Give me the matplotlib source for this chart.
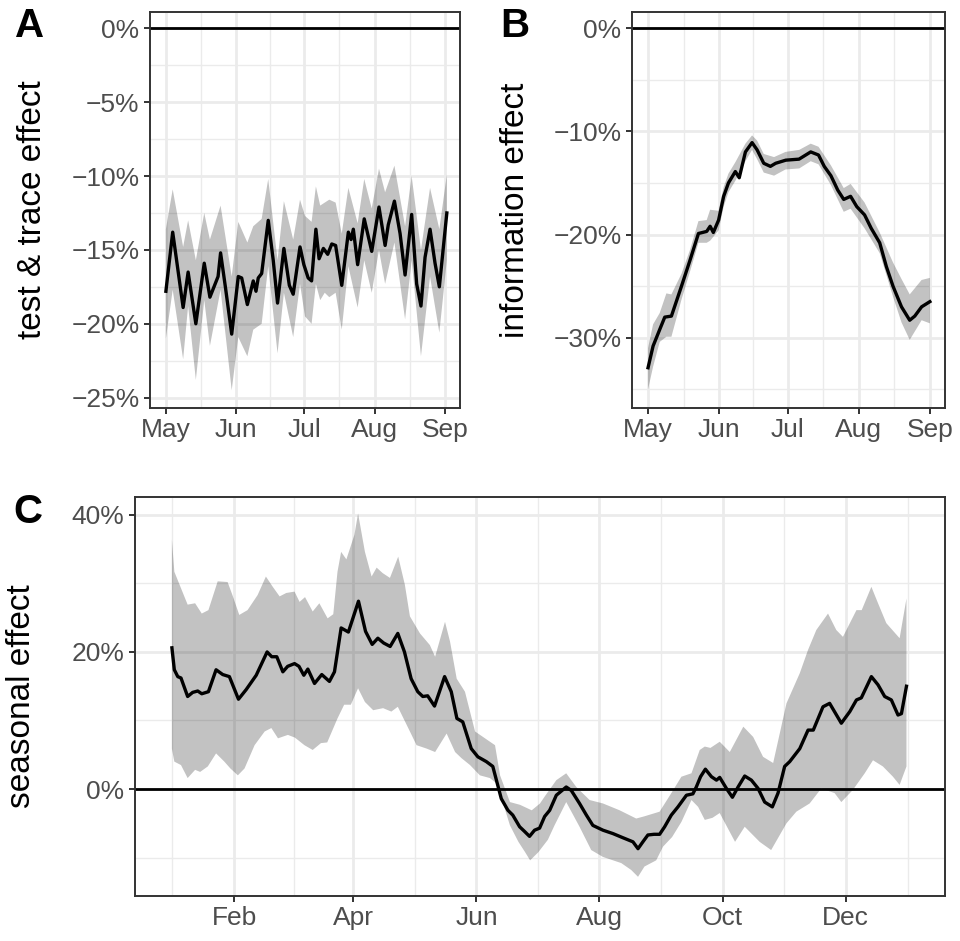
import numpy as np
import pandas as pd
import matplotlib
matplotlib.use('Agg')
import matplotlib.pyplot as plt
import matplotlib.dates as mdates
from matplotlib.ticker import FixedLocator, FuncFormatter

# ---------------- data ----------------
# Panel A: test & trace effect (%), days after 2020-05-01
a_day = [0, 3, 7.6, 9.8, 13.2, 16.9, 19.4, 23, 24.1, 26.3, 29, 31.9, 33.4, 35.9, 38.5, 39.7, 40.7,
         42.2, 45.1, 47.3, 49.2, 52, 54.4, 56.1, 59.1, 60.8, 62.7, 64.2, 66.1, 67.5, 69.4, 71.3, 73.1,
         74.8, 77.5, 80.4, 81.6, 82.6, 84.5, 87.4, 90.7, 93.9, 96.6, 98, 100.7, 103.2, 105.4, 108.3,
         110.5, 112.4, 114.2, 116.4, 118.6, 120.5, 123.8]
a_val = [-17.8, -13.8, -18.9, -16.5, -20.0, -15.9, -18.2, -16.8, -15.2, -17.6, -20.7, -16.8, -16.9,
         -18.7, -17.1, -17.8, -16.9, -16.6, -13.0, -15.7, -18.6, -14.9, -17.4, -18.0, -14.8, -16.0,
         -16.9, -17.1, -13.6, -15.6, -14.9, -15.3, -14.6, -14.7, -17.4, -13.8, -14.3, -13.6, -16.0,
         -12.9, -15.1, -12.1, -14.7, -13.3, -11.7, -13.9, -16.7, -12.6, -17.3, -18.8, -15.5, -13.6,
         -15.9, -17.5, -12.5]
a_band_day = [0, 3, 7.6, 9.8, 13.2, 16.9, 19.4, 24.1, 29, 31.9, 35.9, 38.5, 42.2, 45.1, 49.2, 52,
              56.1, 59.1, 61.3, 64.2, 66.1, 68, 70, 72, 74.8, 77.5, 80.4, 84.5, 87.4, 90.7, 93.9,
              96.6, 100.7, 105.4, 108.3, 112.4, 116.4, 120.5, 123.8]
a_upper = [-13.6, -10.9, -14.8, -13.0, -15.7, -12.5, -14.3, -12.0, -16.8, -13.1, -14.5, -13.4, -12.9,
           -10.2, -15.7, -11.7, -14.3, -11.6, -12.7, -13.1, -10.7, -12.0, -11.8, -11.6, -11.8, -13.9,
           -10.8, -13.2, -10.2, -12.2, -9.5, -11.1, -9.3, -13.4, -10.0, -15.0, -10.8, -13.6, -9.9]
a_lower = [-21.0, -17.7, -22.4, -18.8, -23.8, -18.4, -21.5, -17.7, -24.5, -20.9, -22.2, -20.4, -20.0,
           -16.1, -22.0, -17.9, -20.9, -17.3, -19.5, -20.0, -17.3, -18.4, -17.9, -18.2, -17.9, -20.4,
           -16.1, -18.9, -15.7, -17.9, -15.0, -17.3, -14.5, -19.7, -15.7, -22.2, -16.8, -20.6, -15.7]

# Panel B: information effect (%), days after 2020-05-01
b_day = [0, 2.2, 5.1, 7.3, 10.2, 14.6, 18.3, 22, 25.6, 27.1, 28.5, 30.8, 33, 35.1, 38.1, 39.8, 42.5,
         45.4, 47.6, 50.5, 53.4, 55.7, 60.1, 65.9, 71, 74.4, 76.9, 79.8, 82.8, 85.4, 88.4, 91.1, 94.5,
         97.4, 101.1, 104, 106.9, 110.6, 114.2, 116.4, 119.4, 123]
b_val = [-32.9, -30.8, -29.2, -28.0, -27.9, -25.0, -22.5, -19.9, -19.7, -19.2, -19.8, -18.6, -16.3,
         -15.0, -13.9, -14.5, -12.0, -11.1, -11.8, -13.1, -13.4, -13.1, -12.8, -12.7, -12.0, -12.3,
         -13.4, -14.3, -15.7, -16.6, -16.3, -17.3, -18.1, -19.4, -20.8, -23.1, -25.0, -27.0, -28.3,
         -27.9, -27.0, -26.5]
b_band_day = [0, 2.2, 5.1, 8, 10.2, 14.6, 18.3, 22, 25.6, 27.1, 30.8, 33, 35.1, 38.1, 42.5, 45.4,
              47.6, 50.5, 55, 60, 66, 71, 74.4, 79.8, 85.4, 88.4, 94.5, 101.1, 106.9, 110.6, 114.2,
              119.4, 123]
b_upper = [-31.0, -28.7, -27.6, -25.7, -25.8, -23.8, -21.5, -18.7, -18.6, -17.6, -17.7, -15.4, -14.1,
           -13.0, -11.2, -10.4, -10.9, -12.2, -12.5, -12.0, -11.8, -11.2, -11.5, -13.3, -15.5, -15.1,
           -16.9, -19.8, -22.7, -24.3, -25.8, -24.4, -24.2]
b_lower = [-35.0, -32.8, -30.4, -29.9, -29.9, -26.3, -23.6, -20.8, -20.8, -20.6, -19.6, -17.3, -15.9,
           -14.8, -12.9, -11.8, -12.7, -14.0, -14.3, -13.7, -13.6, -12.9, -13.2, -15.2, -17.8, -17.5,
           -19.4, -21.8, -26.0, -28.5, -30.2, -28.3, -28.6]

# Panel C: seasonal effect (%), day of year
c_day = [0, 1.2, 2.9, 4.5, 7.8, 10.3, 12.8, 14.8, 18.1, 21.9, 25.2, 28.5, 33, 36.8, 41.8, 47.2, 49.5,
         52, 55, 57.4, 60.8, 63, 65.4, 67.4, 70.7, 74.3, 78.1, 80.6, 83.9, 87.5, 92.5, 96, 99.3,
         102.1, 105, 108.2, 112, 115.3, 118.6, 121.9, 124.4, 126.8, 130.2, 135.2, 138.5, 141.3, 144.2,
         148.4, 151.7, 155.9, 159.1, 163.3, 166.6, 169, 172.4, 174.9, 177.3, 179.8, 182.3, 184.8,
         187.3, 190.6, 195.5, 198, 202.1, 205.5, 208.7, 213.7, 218.7, 223.6, 228.6, 231.1, 233.5, 236,
         239, 241.8, 244.3, 247.6, 250.9, 255.1, 258.3, 260, 262.1, 264.5, 267.5, 270, 271.6, 274.9,
         277.9, 280.7, 284, 287.3, 290.6, 293.9, 297.7, 300.5, 303.8, 306.3, 311.3, 315.4, 318,
         322.8, 326.1, 331.9, 336.1, 339.4, 341.8, 346.8, 350.1, 353.4, 356.7, 360, 361.7, 364.2]
c_val = [20.6, 17.4, 16.4, 16.2, 13.5, 14.1, 14.3, 13.9, 14.2, 17.4, 16.7, 16.4, 13.1, 14.5, 16.6,
         20.0, 19.3, 19.3, 17.1, 17.9, 18.3, 17.9, 16.6, 17.5, 15.4, 16.7, 15.7, 17.1, 23.5, 22.9,
         27.4, 23.0, 21.1, 22.0, 21.3, 20.8, 22.7, 20.0, 16.1, 14.2, 13.5, 13.6, 12.1, 16.4, 14.2,
         10.3, 9.8, 5.9, 4.7, 4.0, 3.3, -1.4, -3.1, -3.8, -5.5, -6.2, -6.9, -6.0, -5.7, -4.0, -3.1,
         -0.9, 0.3, -0.2, -2.1, -3.8, -5.3, -6.0, -6.5, -7.1, -7.7, -8.7, -7.7, -6.7, -6.6, -6.6,
         -5.5, -3.8, -2.6, -0.9, -0.7, 0.3, 1.8, 2.9, 1.8, 1.3, 1.7, 0.1, -1.2, 0.3, 1.9, 1.3, 0.1,
         -1.9, -2.6, -0.6, 3.3, 4.0, 5.9, 8.6, 8.6, 12.0, 12.5, 9.6, 11.3, 13.0, 13.3, 16.4, 15.2,
         13.5, 13.0, 10.8, 11.0, 15.0]
c_up_day = [0, 1.2, 4.5, 7.8, 11.5, 14.8, 18.1, 22.7, 27.6, 30, 33.4, 37.5, 42.5, 46.6, 50, 53.4,
            56.7, 60.8, 63.3, 66, 69.8, 73.1, 77.2, 80, 82.1, 83.9, 86.5, 90.5, 92.3, 95.7, 99,
            101.5, 104.5, 108.1, 112.2, 115.5, 118, 123, 127.9, 130.5, 135.4, 137.9, 141.2, 145.3,
            150.3, 157.7, 160.2, 162.7, 167.6, 172.6, 178.4, 182.5, 184.8, 190.6, 195.5, 200.5,
            207.1, 213.7, 222, 230.2, 234, 241.8, 247.6, 252.6, 257.6, 261.7, 264.2, 267, 271.6,
            276.6, 283.3, 288.2, 293.1, 298.1, 304.7, 311.3, 315.4, 319.5, 325.3, 329.4, 332.7,
            339.4, 342, 346.8, 350.1, 354.2, 360.8, 364.2]
c_upper = [36.4, 31.7, 29.3, 26.9, 27.1, 25.6, 26.1, 30.3, 30.2, 28.3, 25.4, 26.1, 28.3, 31.0, 29.5,
           28.1, 28.6, 28.8, 27.3, 28.0, 25.9, 27.1, 24.9, 25.5, 31.7, 34.6, 33.5, 37.1, 40.2, 34.6,
           31.0, 32.3, 31.5, 30.8, 33.9, 29.8, 25.2, 22.7, 21.0, 19.3, 24.4, 21.5, 16.1, 14.2, 8.4,
           6.9, 6.4, 2.0, -1.9, -2.3, -3.1, -2.1, -1.1, 1.3, 2.3, 0.3, -1.6, -2.1, -3.1, -4.3, -4.0,
           -3.3, -0.6, 1.8, 2.3, 5.7, 6.2, 6.0, 6.9, 5.4, 9.1, 7.6, 4.7, 3.8, 12.5, 16.9, 20.3, 23.2,
           25.6, 23.2, 22.2, 26.1, 26.1, 29.5, 27.1, 24.2, 22.0, 27.8]
c_lo_day = [0, 1.2, 4.5, 7.8, 11.5, 14, 17.8, 21.9, 26, 29, 32.7, 36, 41, 46, 49.3, 52.6, 57.5, 61,
            65.7, 69.8, 73.9, 77, 82.1, 85.4, 88.7, 92.3, 95.7, 99.8, 104.7, 108.8, 112, 118, 121.3,
            126.3, 130.5, 136.2, 140.4, 143.6, 147.8, 152.7, 157.7, 161, 163.5, 167.6, 171.8, 175.1,
            177.6, 181.7, 186.4, 189.7, 195.5, 202.1, 207.9, 213.7, 222.8, 227.7, 231.1, 234.3,
            240.1, 243.5, 248, 252.6, 257.6, 260.9, 264.2, 268, 271.6, 279.2, 284, 291.4, 297.1,
            304.7, 309.6, 316.2, 322, 328.6, 331.9, 337.7, 343.5, 347.6, 352.5, 357.5, 360.8, 364.2]
c_lower = [5.9, 4.0, 3.5, 1.6, 2.8, 2.5, 3.3, 5.2, 4.0, 3.0, 2.0, 3.0, 6.4, 8.4, 8.9, 7.4, 7.9, 7.5,
           6.4, 5.7, 6.7, 6.8, 10.3, 12.3, 12.3, 14.7, 12.7, 11.5, 11.8, 11.3, 12.0, 8.4, 6.4, 5.9,
           5.4, 8.1, 5.4, 4.5, 3.5, 2.0, 1.6, 0.8, -1.4, -5.3, -7.7, -9.2, -10.4, -9.2, -7.4, -5.3,
           -1.9, -5.5, -8.9, -9.9, -10.8, -11.8, -12.8, -11.3, -10.4, -8.4, -7.0, -4.8, -1.6, -2.6,
           -4.5, -4.2, -3.5, -7.7, -5.5, -7.7, -8.9, -5.0, -3.3, -2.1, 0.1, -0.6, -1.9, -0.1, 2.3,
           4.2, 3.3, 1.8, 0.6, 3.3]

ab_months = ['2020-05-01', '2020-06-01', '2020-07-01', '2020-08-01', '2020-09-01']
c_months = ['2021-02-01', '2021-04-01', '2021-06-01', '2021-08-01', '2021-10-01', '2021-12-01']
c_months_outside = ['2020-12-01', '2022-02-01']

# ---------------- helpers ----------------
plt.rcParams['font.family'] = ['Liberation Sans', 'DejaVu Sans']
GRID = '#EBEBEB'
DARK = '#333333'
TXT = '#4D4D4D'
BAND = (0, 0, 0, 0.24)


def dnum(start, days):
    return mdates.date2num(pd.Timestamp(start) + pd.to_timedelta(np.asarray(days, float), unit='D'))


def pct(v, _):
    v = int(round(v))
    return ('\u2212%d%%' % -v) if v < 0 else '%d%%' % v


def style(ax, xmaj, xmin, ymaj, ymin):
    ax.set_facecolor('white')
    for s in ax.spines.values():
        s.set_color(DARK)
        s.set_linewidth(1.4)
    ax.xaxis.set_major_locator(FixedLocator(xmaj))
    ax.xaxis.set_minor_locator(FixedLocator(xmin))
    ax.yaxis.set_major_locator(FixedLocator(ymaj))
    ax.yaxis.set_minor_locator(FixedLocator(ymin))
    ax.xaxis.set_major_formatter(mdates.DateFormatter('%b'))
    ax.yaxis.set_major_formatter(FuncFormatter(pct))
    ax.grid(which='major', color=GRID, lw=2.0)
    ax.grid(which='minor', color=GRID, lw=1.0)
    ax.set_axisbelow(True)
    ax.tick_params(which='major', length=4.5, width=1.4, color=DARK,
                   labelsize=19, labelcolor=TXT, pad=3)
    ax.tick_params(which='minor', length=0)


def mids(vals):
    v = np.sort(np.asarray(vals, float))
    return list((v[:-1] + v[1:]) / 2)


fig = plt.figure(figsize=(9.6, 9.41), dpi=100)
W, H = 960.0, 941.0


def add_ax(l, t, r, b):
    return fig.add_axes([l / W, 1 - b / H, (r - l) / W, (b - t) / H])


# ---------------- Panel A ----------------
axA = add_ax(150, 12, 460, 408)
ab_maj = list(mdates.date2num(pd.to_datetime(ab_months)))
ab_ext = [mdates.date2num(pd.Timestamp('2020-04-01'))] + ab_maj + [mdates.date2num(pd.Timestamp('2020-10-01'))]
style(axA, ab_maj, mids(ab_ext), [0, -5, -10, -15, -20, -25], [-2.5, -7.5, -12.5, -17.5, -22.5, -27.5])
xa_u = dnum('2020-05-01', a_band_day)
axA.fill(np.concatenate([xa_u, xa_u[::-1]]), np.concatenate([a_upper, a_lower[::-1]]),
         color=BAND, lw=0)
axA.plot(dnum('2020-05-01', a_day), a_val, color='black', lw=2.4, solid_joinstyle='round')
axA.axhline(0, color='black', lw=2.0)
axA.set_xlim(dnum('2020-05-01', [-7.0, 129.6]))
axA.set_ylim(-25.7, 1.1)
axA.set_ylabel('test & trace effect', fontsize=24, color='black')

# ---------------- Panel B ----------------
axB = add_ax(632, 12, 945, 408)
style(axB, ab_maj, mids(ab_ext), [0, -10, -20, -30], [-5, -15, -25, -35])
xb_u = dnum('2020-05-01', b_band_day)
axB.fill(np.concatenate([xb_u, xb_u[::-1]]), np.concatenate([b_upper, b_lower[::-1]]),
         color=BAND, lw=0)
axB.plot(dnum('2020-05-01', b_day), b_val, color='black', lw=2.4, solid_joinstyle='round')
axB.axhline(0, color='black', lw=2.0)
axB.set_xlim(dnum('2020-05-01', [-7.0, 129.6]))
axB.set_ylim(-36.8, 1.55)
axB.set_ylabel('information effect', fontsize=24, color='black')

# ---------------- Panel C ----------------
axC = add_ax(135, 497, 945, 896)
c_maj = list(mdates.date2num(pd.to_datetime(c_months)))
c_ext = sorted(list(mdates.date2num(pd.to_datetime(c_months_outside))) + c_maj)
style(axC, c_maj, mids(c_ext), [0, 20, 40], [-10, 10, 30])
xc_u = dnum('2021-01-01', c_up_day)
xc_l = dnum('2021-01-01', c_lo_day)
axC.fill(np.concatenate([xc_u, xc_l[::-1]]), np.concatenate([c_upper, c_lower[::-1]]),
         color=BAND, lw=0)
axC.axhline(0, color='black', lw=2.0)
axC.plot(dnum('2021-01-01', c_day), c_val, color='black', lw=2.4, solid_joinstyle='round')
axC.set_xlim(dnum('2021-01-01', [-18.3, 383.3]))
axC.set_ylim(-15.6, 42.6)
axC.set_ylabel('seasonal effect', fontsize=24, color='black')

# label positions (centre of rotated text)
for ax, xpx, l, r in [(axA, 33, 150, 460), (axB, 515, 632, 945), (axC, 22, 135, 945)]:
    ax.yaxis.label.set_va('center')
    ax.yaxis.set_label_coords((xpx - l) / (r - l), 0.5)

# tags
for t, x, y in [('A', 30, 26), ('B', 515, 26), ('C', 28, 512)]:
    fig.text(x / W, 1 - y / H, t, fontsize=29, fontweight='bold', ha='center', va='center')

fig.savefig('out.png', dpi=100, facecolor='white')
